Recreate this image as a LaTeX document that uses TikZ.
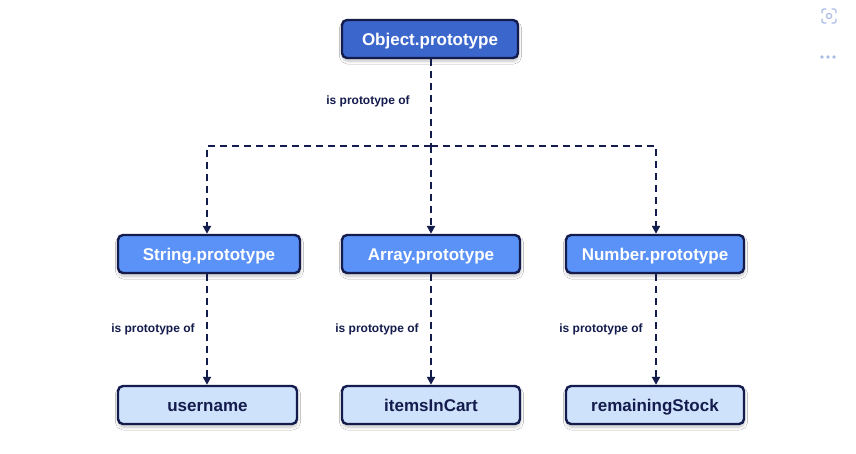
\documentclass[tikz,border=0pt]{standalone}
\usepackage{fontspec}
\setmainfont{Liberation Sans}
\usetikzlibrary{arrows.meta,shadows.blur}
\definecolor{navy}{HTML}{141B4D}
\definecolor{topfill}{HTML}{3B66CC}
\definecolor{midfill}{HTML}{5B92F7}
\definecolor{lowfill}{HTML}{CFE2FC}
\definecolor{chrome}{HTML}{A9BCE6}
\tikzset{
  box/.style={draw=navy, line width=2.4pt, rounded corners=5pt,
    minimum height=38pt, inner sep=0pt, text height=12.2pt, text depth=0pt,
    font=\bfseries\fontsize{17}{20}\selectfont,
    blur shadow={shadow xshift=0.5pt, shadow yshift=-3pt, shadow blur steps=6,
      shadow opacity=25, shadow blur radius=3pt}},
  topbox/.style={box, fill=topfill, text=white},
  midbox/.style={box, fill=midfill, text=white},
  lowbox/.style={box, fill=lowfill, text=navy},
  link/.style={draw=navy, line width=2pt, dash pattern=on 7pt off 5pt},
  tip/.style={-{Triangle[length=8pt,width=8pt]}},
  lbl/.style={text=navy, font=\bfseries\fontsize{12}{14}\selectfont, inner sep=0pt}
}
\begin{document}
\begin{tikzpicture}[x=1pt,y=-1pt]
  \useasboundingbox (0,0) rectangle (856,453);
  \fill[white] (0,0) rectangle (856,453);

  % prototype chain
  \node[topbox, minimum width=176pt] (obj) at (430,39) {Object.prototype};
  \node[midbox, minimum width=182pt] (str) at (209,254) {String.prototype};
  \node[midbox, minimum width=178pt] (arr) at (431,254) {Array.prototype};
  \node[midbox, minimum width=178pt] (num) at (655,254) {Number.prototype};
  \node[lowbox, minimum width=179pt] (user) at (207.5,405) {username};
  \node[lowbox, minimum width=178pt] (items) at (431,405) {itemsInCart};
  \node[lowbox, minimum width=178pt] (rem) at (655,405) {remainingStock};

  \coordinate (hub) at (431,146);

  % connectors
  \draw[link] (obj.south -| hub) -- (hub);
  \draw[link, tip] (hub) -| (str.north -| 207,0);
  \draw[link, tip] (hub) -- (arr.north -| hub);
  \draw[link, tip] (hub) -| (num.north -| 656,0);
  \draw[link, tip] (str.south -| 207,0) -- (user.north -| 207,0);
  \draw[link, tip] (arr.south -| hub) -- (items.north -| hub);
  \draw[link, tip] (num.south -| 656,0) -- (rem.north -| 656,0);

  % edge labels
  \node[lbl] (l0) at (368,101) {is prototype of};
  \node[lbl] (l1) at (153,329) {is prototype of};
  \node[lbl] (l2) at (377,329) {is prototype of};
  \node[lbl] (l3) at (601,329) {is prototype of};

  % corner controls
  \begin{scope}[draw=chrome, line width=1.2pt, line cap=round, rounded corners=2pt]
    \draw (822,13) -- (822,9) -- (826,9);
    \draw (832,9) -- (836,9) -- (836,13);
    \draw (836,19) -- (836,23) -- (832,23);
    \draw (826,23) -- (822,23) -- (822,19);
  \end{scope}
  \draw[chrome, line width=1.2pt] (829,16) circle[radius=2.6];
  \fill[chrome] (822,57) circle[radius=1.8] (828,57) circle[radius=1.8] (834,57) circle[radius=1.8];
\end{tikzpicture}
\end{document}
